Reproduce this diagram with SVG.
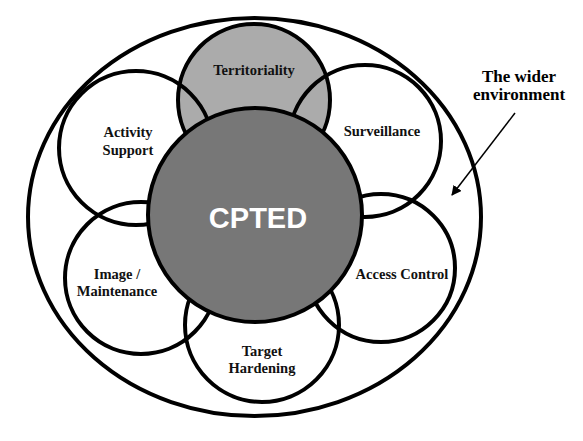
<svg xmlns="http://www.w3.org/2000/svg" width="583" height="441" viewBox="0 0 583 441">
<defs>
<style>
.ring{fill:none;stroke:#000;stroke-width:4}
.lbl{font-family:"Liberation Serif","Times New Roman",serif;font-weight:bold;font-size:14.5px;fill:#111;text-anchor:middle}
.env{font-family:"Liberation Serif","Times New Roman",serif;font-weight:bold;font-size:17px;fill:#000;text-anchor:middle}
</style>
<marker id="ah" viewBox="0 0 10 10" refX="9" refY="5" markerWidth="10" markerHeight="10" markerUnits="userSpaceOnUse" orient="auto">
<path d="M0,0 L10,5 L0,10 z" fill="#000"/>
</marker>
</defs>
<rect width="583" height="441" fill="#fff"/>
<g id="wider-environment">
<ellipse class="ring" cx="254.5" cy="217" rx="226.5" ry="199"/>
<text class="env" x="519" y="82">The wider</text>
<text class="env" x="519" y="100">environment</text>
</g>
<g id="territoriality">
<circle cx="254" cy="100" r="76" fill="#ababab" stroke="#000" stroke-width="4"/>
<text class="lbl" x="254" y="75">Territoriality</text>
</g>
<g id="activity-support">
<circle class="ring" cx="136" cy="148" r="77"/>
<text class="lbl" x="128" y="137">Activity</text>
<text class="lbl" x="128" y="155">Support</text>
</g>
<g id="surveillance">
<circle class="ring" cx="365" cy="141" r="76"/>
<text class="lbl" x="382" y="136">Surveillance</text>
</g>
<g id="image-maintenance">
<circle class="ring" cx="141" cy="278" r="76"/>
<text class="lbl" x="117" y="279">Image /</text>
<text class="lbl" x="117" y="296">Maintenance</text>
</g>
<g id="access-control">
<circle class="ring" cx="381" cy="268" r="74"/>
<text class="lbl" x="402" y="279">Access Control</text>
</g>
<g id="target-hardening">
<circle class="ring" cx="262" cy="325" r="77"/>
<text class="lbl" x="262" y="356">Target</text>
<text class="lbl" x="262" y="373">Hardening</text>
</g>
<g id="cpted">
<circle cx="255" cy="215" r="107" fill="#777" stroke="#000" stroke-width="4"/>
<text x="258" y="228" font-family="'Liberation Sans',Arial,sans-serif" font-weight="bold" font-size="29" fill="#fff" text-anchor="middle">CPTED</text>
</g>
<g id="connectors">
<line x1="515" y1="113" x2="452" y2="195" stroke="#000" stroke-width="1.5" marker-end="url(#ah)"/>
</g>
</svg>
